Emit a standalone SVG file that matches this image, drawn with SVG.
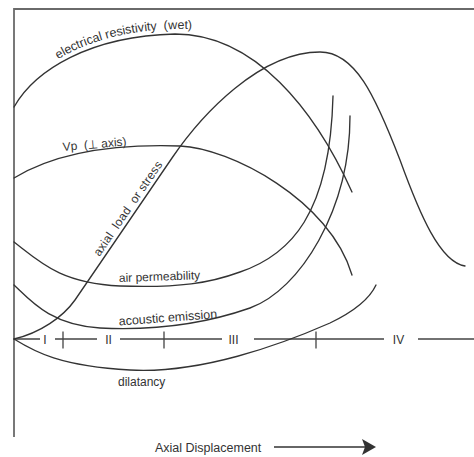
<svg xmlns="http://www.w3.org/2000/svg" xmlns:xlink="http://www.w3.org/1999/xlink" width="474" height="457" viewBox="0 0 474 457">
  <style>
    .frame { fill: none; stroke: #6a6a6a; stroke-width: 1.8; }
    .curve { fill: none; stroke: #333; stroke-width: 1.35; stroke-linecap: round; }
    .axis { fill: none; stroke: #444; stroke-width: 1.3; }
    .lbl { font-family: "Liberation Sans", Arial, sans-serif; font-size: 12px; fill: #333; }
  </style>
  <defs>
    <path id="erPath" d="M14,102 C35,65 90,31 175,29 C200,28.5 220,30 240,34"/>
  </defs>
  <rect width="474" height="457" fill="#fff"/>

  <g id="frame">
    <path class="frame" d="M14,437 L14,9 L474,9"/>
  </g>

  <g id="stage-axis">
    <path class="axis" d="M14,339 H40 M55,339 H97 M120,339 H222 M254,339 H384 M418,339 H474"/>
    <path class="axis" d="M63,331.5 V348.5 M164,331.5 V348.5 M316,331.5 V348.5"/>
    <text class="lbl" x="45" y="343.5" text-anchor="middle">I</text>
    <text class="lbl" x="108.5" y="343.5" text-anchor="middle">II</text>
    <text class="lbl" x="233.5" y="343.5" text-anchor="middle">III</text>
    <text class="lbl" x="398.5" y="343.5" text-anchor="middle">IV</text>
  </g>

  <g id="electrical-resistivity">
    <path class="curve" d="M14,107 C35,70 90,36 175,34 C255,34 315,110 352,192"/>
    <text class="lbl" style="font-size:12.5px" xml:space="preserve"><textPath xlink:href="#erPath" href="#erPath" startOffset="62">electrical resistivity  (wet)</textPath></text>
  </g>

  <g id="vp">
    <path class="curve" d="M14,178 C60,150 120,144 180,146 C230,148 330,200 352,275"/>
    <text class="lbl" xml:space="preserve" transform="translate(63,151) rotate(-5)">Vp  (⊥ axis)</text>
  </g>

  <g id="axial-load">
    <path class="curve" d="M14,339 C40,333 63,317 75,300 L172,158 C202,114 260,52 320,52 C355,52 375,95 400,160 C420,215 440,262 465,266"/>
    <text class="lbl" xml:space="preserve" transform="translate(99.5,257) rotate(-55.6)" textLength="112" lengthAdjust="spacing">axial  load  or stress</text>
  </g>

  <g id="air-permeability">
    <path class="curve" d="M14,242 C40,262 60,283 120,286 C180,288 210,283 240,272 C290,255 330,215 333,96"/>
    <text class="lbl" transform="translate(119,282) rotate(-2)">air permeability</text>
  </g>

  <g id="acoustic-emission">
    <path class="curve" d="M14,285 C30,300 50,325 100,328 C160,331 210,322 250,308 C300,290 350,210 350,116"/>
    <text class="lbl" style="font-size:12.5px" transform="translate(119,325.5) rotate(-4.3)">acoustic emission</text>
  </g>

  <g id="dilatancy">
    <path class="curve" d="M14,339 C35,352 60,366 130,370 C200,374 280,345 330,323 C355,311 370,298 376,285"/>
    <text class="lbl" x="118" y="385.5">dilatancy</text>
  </g>

  <g id="x-axis-label">
    <text class="lbl" style="font-size:12.5px" x="155" y="451.5">Axial Displacement</text>
    <path class="axis" d="M274,447 H366" style="stroke:#333;stroke-width:1.5"/>
    <path d="M362,439 L376,447 L362,455 L365,447 Z" fill="#333"/>
  </g>
</svg>
